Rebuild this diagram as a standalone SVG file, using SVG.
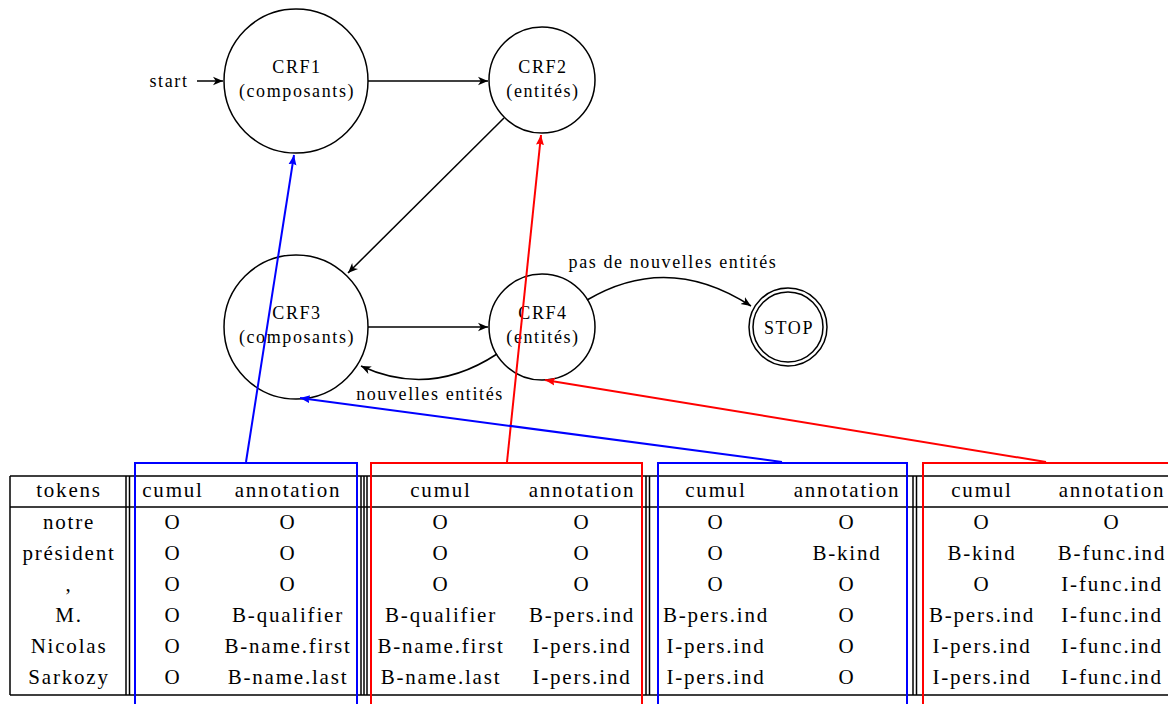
<svg xmlns="http://www.w3.org/2000/svg" width="1168" height="704" viewBox="0 0 1168 704">
<style>
.g{font-size:18px;letter-spacing:1.6px}
.t{font-size:21px;letter-spacing:1.8px}
.node{fill:none;stroke:#000;stroke-width:1.5}
.edge{fill:none;stroke:#000;stroke-width:1.5}
.tl{stroke:#000;stroke-width:1.5;fill:none}
.bl{stroke:#0000ff;stroke-width:2;fill:none}
.rd{stroke:#ff0000;stroke-width:2;fill:none}
</style>
<defs>
<marker id="ak" markerWidth="12" markerHeight="10" refX="10" refY="5" orient="auto" markerUnits="userSpaceOnUse"><path d="M0,0.8 L10,5 L0,9.2 L2.8,5 Z" fill="#000"/></marker>
<marker id="ab" markerWidth="12" markerHeight="10" refX="10" refY="5" orient="auto" markerUnits="userSpaceOnUse"><path d="M0,1 L10,5 L0,9 L1.5,5 Z" fill="#0000ff"/></marker>
<marker id="ar" markerWidth="12" markerHeight="10" refX="10" refY="5" orient="auto" markerUnits="userSpaceOnUse"><path d="M0,1 L10,5 L0,9 L1.5,5 Z" fill="#ff0000"/></marker>
</defs>
<rect width="1168" height="704" fill="#fff"/>
<g font-family="Liberation Serif, DejaVu Serif, Noto Serif, serif" text-anchor="middle" fill="#000">
<g id="start"><text class="g" x="169" y="87">start</text></g>
<g id="crf1"><circle class="node" cx="296" cy="81" r="72"/><text class="g" x="297" y="73">CRF1</text><text class="g" x="297" y="97">(composants)</text></g>
<g id="crf2"><circle class="node" cx="542" cy="80" r="53"/><text class="g" x="543" y="73">CRF2</text><text class="g" x="543" y="97">(entités)</text></g>
<g id="crf3"><circle class="node" cx="296" cy="327" r="72"/><text class="g" x="297" y="319">CRF3</text><text class="g" x="297" y="343">(composants)</text></g>
<g id="crf4"><circle class="node" cx="542" cy="327" r="53"/><text class="g" x="543" y="319">CRF4</text><text class="g" x="543" y="343">(entités)</text></g>
<g id="stop"><circle class="node" cx="788" cy="327" r="39"/><circle class="node" cx="788" cy="327" r="35"/><text class="g" x="789" y="334">STOP</text></g>

<g id="table">
<path class="tl" d="M10,476 H1170 M10,507 H1170 M10,695 H1170 M10,476 V695"/>
<path class="tl" d="M126,476 V695 M129.5,476 V695 M361,476 V695 M364,476 V695 M367,476 V695 M646,476 V695 M649.5,476 V695 M913,476 V695 M916.5,476 V695"/>
<g class="t">
<text x="69" y="497">tokens</text>
<text x="69" y="529">notre</text>
<text x="69" y="560">président</text>
<text x="69" y="591">,</text>
<text x="69" y="622">M.</text>
<text x="69" y="653">Nicolas</text>
<text x="69" y="684">Sarkozy</text>

<text x="173" y="497">cumul</text>
<text x="173" y="529">O</text><text x="173" y="560">O</text><text x="173" y="591">O</text><text x="173" y="622">O</text><text x="173" y="653">O</text><text x="173" y="684">O</text>
<text x="288" y="497">annotation</text>
<text x="288" y="529">O</text><text x="288" y="560">O</text><text x="288" y="591">O</text><text x="288" y="622">B-qualifier</text><text x="288" y="653">B-name.first</text><text x="288" y="684">B-name.last</text>

<text x="441" y="497">cumul</text>
<text x="441" y="529">O</text><text x="441" y="560">O</text><text x="441" y="591">O</text><text x="441" y="622">B-qualifier</text><text x="441" y="653">B-name.first</text><text x="441" y="684">B-name.last</text>
<text x="582" y="497">annotation</text>
<text x="582" y="529">O</text><text x="582" y="560">O</text><text x="582" y="591">O</text><text x="582" y="622">B-pers.ind</text><text x="582" y="653">I-pers.ind</text><text x="582" y="684">I-pers.ind</text>

<text x="716" y="497">cumul</text>
<text x="716" y="529">O</text><text x="716" y="560">O</text><text x="716" y="591">O</text><text x="716" y="622">B-pers.ind</text><text x="716" y="653">I-pers.ind</text><text x="716" y="684">I-pers.ind</text>
<text x="847" y="497">annotation</text>
<text x="847" y="529">O</text><text x="847" y="560">B-kind</text><text x="847" y="591">O</text><text x="847" y="622">O</text><text x="847" y="653">O</text><text x="847" y="684">O</text>

<text x="982" y="497">cumul</text>
<text x="982" y="529">O</text><text x="982" y="560">B-kind</text><text x="982" y="591">O</text><text x="982" y="622">B-pers.ind</text><text x="982" y="653">I-pers.ind</text><text x="982" y="684">I-pers.ind</text>
<text x="1112" y="497">annotation</text>
<text x="1112" y="529">O</text><text x="1112" y="560">B-func.ind</text><text x="1112" y="591">I-func.ind</text><text x="1112" y="622">I-func.ind</text><text x="1112" y="653">I-func.ind</text><text x="1112" y="684">I-func.ind</text>
</g>
</g>

<g id="boxes">
<path class="bl" d="M135,710 V463 H357 V710"/>
<path class="rd" d="M371,710 V463 H642 V710"/>
<path class="bl" d="M658,710 V463 H907 V710"/>
<path class="rd" d="M923,710 V463 H1172 V710"/>
</g>

<g id="connectors">
<line class="edge" x1="197" y1="81" x2="223" y2="81" marker-end="url(#ak)"/>
<line class="edge" x1="368" y1="81" x2="488" y2="81" marker-end="url(#ak)"/>
<line class="edge" x1="504" y1="118" x2="348" y2="273" marker-end="url(#ak)"/>
<line class="edge" x1="368" y1="327" x2="488" y2="327" marker-end="url(#ak)"/>
<path class="edge" d="M587,300 Q668,252 751,306" marker-end="url(#ak)"/>
<path class="edge" d="M497,354 Q430,398 361,366" marker-end="url(#ak)"/>
<line class="bl" x1="246" y1="462" x2="294" y2="155" marker-end="url(#ab)"/>
<line class="rd" x1="507" y1="462" x2="541" y2="135" marker-end="url(#ar)"/>
<line class="bl" x1="782" y1="462" x2="300" y2="398" marker-end="url(#ab)"/>
<line class="rd" x1="1046" y1="462" x2="545" y2="380" marker-end="url(#ar)"/>
<text class="g" x="673" y="268">pas de nouvelles entités</text>
<text class="g" x="430" y="400">nouvelles entités</text>
</g>
</g>
</svg>
